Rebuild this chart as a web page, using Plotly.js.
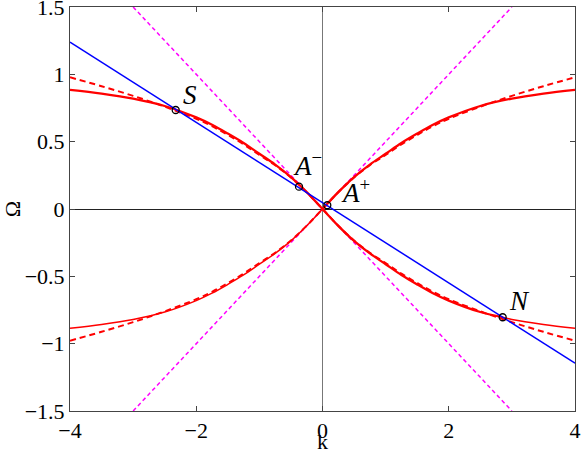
<!DOCTYPE html>
<html>
<head>
<meta charset="utf-8">
<script src="https://cdn.plot.ly/plotly-3.0.1.min.js"></script>
<style>html,body{margin:0;padding:0;background:#fff;}#chart{width:581px;height:454px;}</style>
</head>
<body>
<div id="chart"></div>
<script>
// k >= 0 samples (branches are odd-symmetric)
const kPos = [0, 0.25, 0.5, 0.75, 1, 1.25, 1.5, 1.75, 2, 2.5, 3, 3.5, 4];
// solid red branch Omega(k)
const solidPos = [0, 0.125, 0.237, 0.33, 0.41, 0.49, 0.56, 0.625, 0.68, 0.765, 0.82, 0.857, 0.885];
// dashed red branch Omega(k)
const dashedPos = [0, 0.124, 0.234, 0.325, 0.402, 0.48, 0.55, 0.615, 0.67, 0.76, 0.84, 0.912, 0.978];
// magenta dashed asymptotes
const magentaK = [-3, 3];
const magentaVals = [-1.5, 1.5];
// blue line
const blueK = [-4, 4];
const blueVals = [1.24, -1.145];
// special points
const pointNames = ['S', 'A−', 'A+', 'N'];
const pointK = [-2.326, -0.372, 0.076, 2.854];
const pointVals = [0.735, 0.166, 0.028, -0.804];
// axis ticks
const xTicks = [-4, -2, 0, 2, 4];
const xTickText = ['−4', '−2', '0', '2', '4'];
const yTicks = [-1.5, -1, -0.5, 0, 0.5, 1, 1.5];
const yTickText = ['−1.5', '−1', '−0.5', '0', '0.5', '1', '1.5'];
const xTitle = 'k';
const yTitle = 'Ω';

function full(vals) {
  const k = [], v = [];
  for (let i = kPos.length - 1; i > 0; i--) { k.push(-kPos[i]); v.push(-vals[i]); }
  for (let i = 0; i < kPos.length; i++) { k.push(kPos[i]); v.push(vals[i]); }
  return {k, v};
}
const S = full(solidPos), D = full(dashedPos);
const neg = a => a.map(x => -x);
function seg(k, v, lo, hi) {
  const ok = [], ov = [];
  k.forEach((x, i) => { if (x >= lo && x <= hi) { ok.push(x); ov.push(v[i]); } });
  return {k: ok, v: ov};
}

const red = '#ff0000';
const traces = [];
traces.push({x: magentaK, y: magentaVals, mode: 'lines', line: {color: '#ff00ff', width: 1.5, dash: '4px,3px'}, hoverinfo: 'skip'});
traces.push({x: magentaK, y: neg(magentaVals), mode: 'lines', line: {color: '#ff00ff', width: 1.5, dash: '4px,3px'}, hoverinfo: 'skip'});
traces.push({x: D.k, y: D.v, mode: 'lines', line: {color: red, width: 2, dash: '6px,4px', shape: 'spline'}, hoverinfo: 'skip'});
traces.push({x: D.k, y: neg(D.v), mode: 'lines', line: {color: red, width: 2, dash: '6px,4px', shape: 'spline'}, hoverinfo: 'skip'});
const s1 = seg(S.k, S.v, -4, 0), s2 = seg(S.k, S.v, 0, 4);
traces.push({x: s1.k, y: s1.v, mode: 'lines', line: {color: red, width: 1.5, shape: 'spline'}, hoverinfo: 'skip'});
traces.push({x: s2.k, y: s2.v, mode: 'lines', line: {color: red, width: 2.3, shape: 'spline'}, hoverinfo: 'skip'});
const nS = neg(S.v);
const s3 = seg(S.k, nS, -4, 2.6), s4 = seg(S.k, nS, 2.9, 4);
s3.k.push(pointK[3]); s3.v.push(pointVals[3]);
s4.k.unshift(pointK[3]); s4.v.unshift(pointVals[3]);
traces.push({x: s3.k, y: s3.v, mode: 'lines', line: {color: red, width: 2.3, shape: 'spline'}, hoverinfo: 'skip'});
traces.push({x: s4.k, y: s4.v, mode: 'lines', line: {color: red, width: 1.5, shape: 'spline'}, hoverinfo: 'skip'});
traces.push({x: blueK, y: blueVals, mode: 'lines', line: {color: '#0000ff', width: 1.5}, hoverinfo: 'skip'});
traces.push({x: pointK, y: pointVals, mode: 'markers', marker: {symbol: 'circle-open', size: 7, color: '#000', line: {width: 1.3, color: '#000'}}, hoverinfo: 'skip'});

const serif = 'Liberation Serif';
const labelFont = {family: serif, size: 27, color: '#000'};
const labelText = ['<i>S</i>', '<i>A</i><sup>−</sup>', '<i>A</i><sup>+</sup>', '<i>N</i>'];
const shifts = [[5, -2], [-8, 4], [12, -5], [4, -1]];
const annotations = pointNames.map((n, i) => ({
  x: pointK[i], y: pointVals[i], xref: 'x', yref: 'y', text: labelText[i], showarrow: false,
  xanchor: 'left', yanchor: 'bottom', xshift: shifts[i][0], yshift: shifts[i][1], font: labelFont
}));
const tickFont = {family: serif, size: 22, color: '#000'};
annotations.push({
  x: 0.5, y: 0, xref: 'paper', yref: 'paper', text: xTitle, showarrow: false,
  xanchor: 'center', yanchor: 'bottom', yshift: -45, font: tickFont
});

const layout = {
  width: 581, height: 454,
  margin: {l: 70, r: 6, t: 7, b: 43},
  paper_bgcolor: '#fff', plot_bgcolor: '#fff',
  font: {family: serif},
  showlegend: false,
  xaxis: {
    range: [-4, 4], tickvals: xTicks, ticktext: xTickText, ticks: 'inside', ticklen: 5, tickcolor: '#444',
    showline: true, mirror: 'ticks', linecolor: '#444', linewidth: 1, showgrid: false,
    zeroline: true, zerolinecolor: '#777', zerolinewidth: 1, ticklabeloverflow: 'allow',
    tickfont: tickFont, automargin: false
  },
  yaxis: {
    range: [-1.5, 1.5], tickvals: yTicks, ticktext: yTickText, ticks: 'inside', ticklen: 5, tickcolor: '#444',
    showline: true, mirror: 'ticks', linecolor: '#444', linewidth: 1, showgrid: false,
    zeroline: true, zerolinecolor: '#222', zerolinewidth: 1, ticklabeloverflow: 'allow',
    tickfont: tickFont, title: {text: yTitle, font: tickFont, standoff: 0}, automargin: false
  },
  annotations: annotations
};
Plotly.newPlot('chart', traces, layout, {staticPlot: true, displayModeBar: false});
</script>
</body>
</html>
